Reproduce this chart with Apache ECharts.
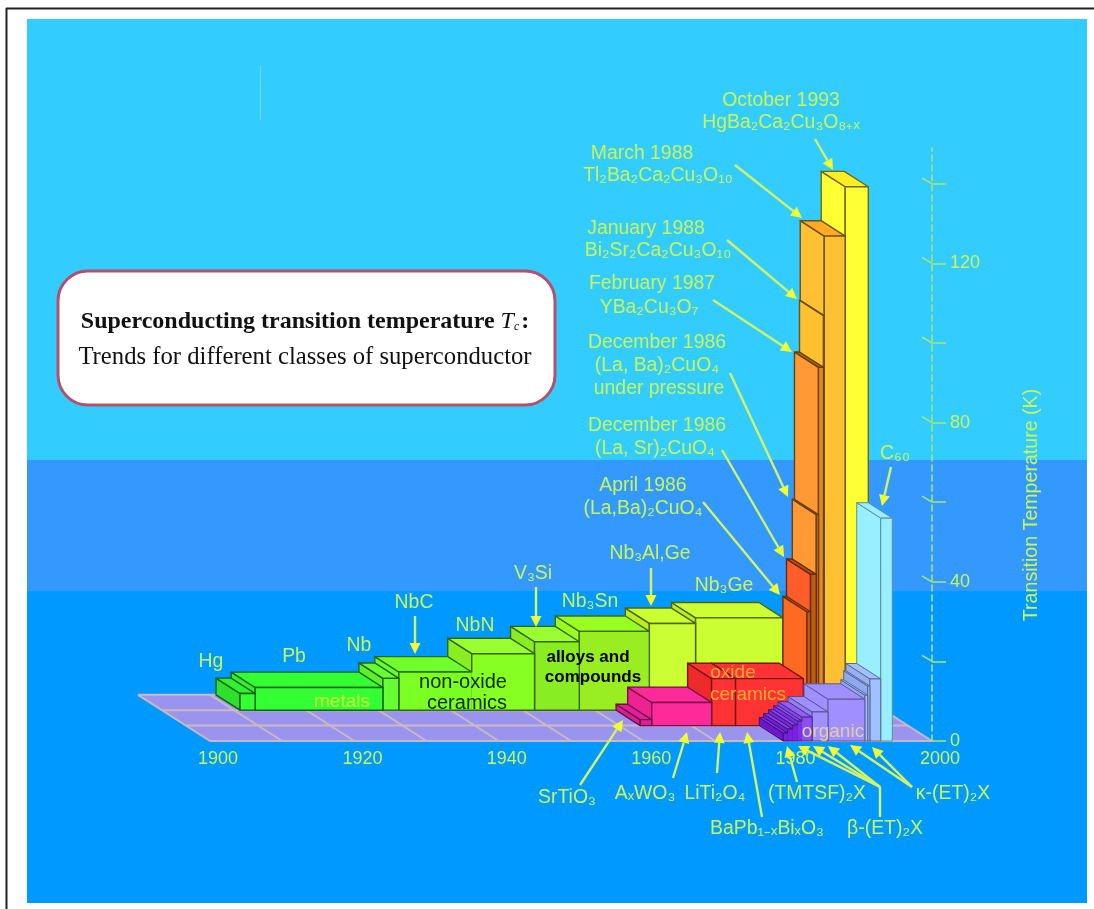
<!DOCTYPE html>
<html>
<head>
<meta charset="utf-8">
<title>Superconducting transition temperature</title>
<script src="https://cdn.jsdelivr.net/npm/echarts@6/dist/echarts.min.js"></script>
<style>html,body{margin:0;padding:0;background:#fff}#chart{width:1094px;height:909px}</style>
</head>
<body>
<div id="chart"></div>
<script>
// Rear row: metals, non-oxide ceramics, alloys and compounds
const rearNames = ['Hg', 'Pb', 'Nb', 'NbC', 'NbN', 'V3Si', 'Nb3Sn', 'Nb3Al,Ge', 'Nb3Ge'];
const rearStart = [1910.8, 1912.9, 1930.6, 1932.8, 1942.9, 1951.6, 1957.8, 1967.5, 1973.9];
const rearEnd   = [1912.9, 1930.6, 1932.8, 1942.9, 1951.6, 1957.8, 1967.5, 1973.9, 1986.0];
const rearTc    = [4.2, 5.7, 8.0, 9.6, 14.2, 17.2, 19.8, 21.8, 23.2];

// Middle row: oxides and the cuprate column
const oxideNames = ['SrTiO3', 'AxWO3', 'LiTi2O4', 'BaPb1-xBixO3'];
const oxideStart = [1962.9, 1964.5, 1972.8, 1976.1];
const oxideEnd   = [1964.5, 1972.8, 1976.1, 1985.5];
const oxideTc    = [1.5, 5.8, 11.8, 11.8];

const cuprateNames = ['(La,Ba)2CuO4', '(La,Sr)2CuO4', '(La,Ba)2CuO4 P', 'YBa2Cu3O7', 'Bi2Sr2Ca2Cu3O10', 'Tl2Ba2Ca2Cu3O10', 'HgBa2Ca2Cu3O8'];
const cuprateStart = [1986.0, 1986.5, 1987.3, 1987.6, 1988.3, 1988.4, 1991.3];
const cuprateEnd   = [1986.5, 1987.3, 1987.6, 1988.3, 1988.4, 1991.3, 1994.5];
const cuprateTc    = [28.6, 38.0, 53.0, 90.0, 103.0, 123.0, 135.4];

// Front row: organic salts and C60
const organicNames = ['TMTSF a', 'TMTSF b', 'TMTSF c', 'TMTSF d', 'beta a', 'beta b', 'kappa a', 'kappa b', 'kappa c', 'kappa d', 'C60'];
const organicStart = [1979.4, 1980.0, 1980.7, 1981.4, 1982.0, 1983.4, 1985.6, 1990.7, 1991.1, 1991.4, 1992.9];
const organicEnd   = [1980.0, 1980.7, 1981.4, 1982.0, 1983.4, 1985.6, 1990.7, 1991.1, 1991.4, 1992.9, 1994.5];
const organicTc    = [2.0, 3.0, 4.0, 5.0, 6.0, 7.3, 10.5, 11.5, 13.8, 15.6, 56.0];

const xTicks = [1900, 1920, 1940, 1960, 1980, 2000];
const floorYears = [1900, 1910, 1920, 1930, 1940, 1950, 1960, 1970, 1980, 1990, 2000];
const floorDepths = [1, 2, 3];
const yTickValues = [0, 20, 40, 60, 80, 100, 120, 140];
const yLabelValues = [0, 40, 80, 120];

// Face colours per block: front, side, top
const rearFaces = [
  ['#33ff33', '#2ee02e', '#33f033'], ['#33ff33', '#33ee33', '#33ff33'],
  ['#66ff33', '#5eee2e', '#66ff33'], ['#7cff22', '#66ff33', '#70ff2a'],
  ['#88ff22', '#88ee22', '#99ff33'], ['#88ee22', '#88ee22', '#99ff33'],
  ['#99ee22', '#99ff22', '#99ff22'], ['#ccff33', '#bbee22', '#ccff33'],
  ['#ccff33', '#bbee22', '#ccff33']
];
const oxideFaces = [
  ['#e0209a', '#d81f90', '#e0209a'], ['#ff2a9a', '#ee2290', '#ff2a9a'],
  ['#ff3333', '#ee2a2a', '#ff3333'], ['#ff3333', '#ee2a2a', '#ff3333']
];
const cuprateFaces = [
  ['#c85a10', '#ff6a22', '#d05a14'], ['#b86010', '#ff5e2a', '#b05010'],
  ['#d07018', '#ff9933', '#a05a10'], ['#e08a20', '#ff9933', '#a06410'],
  ['#ffc030', '#ffc030', '#a87a14'], ['#ffc033', '#ffc033', '#ffaa22'],
  ['#ffff33', '#ffff33', '#ffee22']
];
const organicFaces = [
  ['#7a20e0', '#6a18c8', '#8030e0'], ['#7a20e0', '#7020d0', '#8840e8'],
  ['#7a20e0', '#7428d8', '#8840e8'], ['#7a30e8', '#7a30e0', '#8850f0'],
  ['#8a50f0', '#8048e8', '#9060f0'], ['#a090ff', '#9080f0', '#a090ff'],
  ['#a090ff', '#a090ff', '#a090ff'], ['#a0c0ff', '#90a8f0', '#a0c0ff'],
  ['#a0c0ff', '#90a8f0', '#a0c0ff'], ['#a0c0ff', '#98b0f0', '#a0c0ff'],
  ['#99eeff', '#99eeff', '#99eeff']
];

// Oblique projection: one depth unit moves a point back and to the left
const DEPTH_DX = -24;
const DEPTH_DY = -15.4;

function darken(hex, k) {
  const n = parseInt(hex.slice(1), 16);
  const c = [n >> 16, (n >> 8) & 255, n & 255].map(v => Math.round(v * k));
  return 'rgb(' + c.join(',') + ')';
}

// Within a row the steps rise to the right, so they are painted right to left.
// A joined block shares its front face with the block on its left.
const blocks = [];
function addRow(starts, ends, tcs, depth, faces, joined, edgeShade, edgeWidth) {
  for (let i = starts.length - 1; i >= 0; i--) {
    blocks.push({
      start: starts[i], end: ends[i], tc: tcs[i], depth,
      faces: faces[i], edgeShade, edgeWidth,
      joinedBelow: joined.includes(i) ? tcs[i - 1] : null,
      openRight: joined.includes(i + 1)
    });
  }
}
addRow(rearStart, rearEnd, rearTc, 2, rearFaces, [4], 0.42, 1.4);
addRow(cuprateStart, cuprateEnd, cuprateTc, 1, cuprateFaces, [], 0.42, 1.4);
addRow(oxideStart, oxideEnd, oxideTc, 1, oxideFaces, [], 0.5, 1.4);
addRow(organicStart, organicEnd, organicTc, 0, organicFaces, [1, 2, 3, 4], 0.6, 1);

function project(api, year, tc, depth) {
  const c = api.coord([year, tc]);
  return [c[0] + depth * DEPTH_DX, c[1] + depth * DEPTH_DY];
}

function renderBlock(params, api) {
  const b = blocks[params.dataIndex];
  const s = api.value(0), e = api.value(1), t = api.value(2), d = api.value(3);
  const d1 = d + 1;
  const edge = darken(b.faces[1], b.edgeShade);
  const lw = b.edgeWidth;
  const poly = (pts, fill) => ({
    type: 'polygon', shape: { points: pts },
    style: { fill, stroke: edge, lineWidth: lw, lineJoin: 'round' }
  });
  const frontPts = [project(api, s, 0, d), project(api, e, 0, d), project(api, e, t, d), project(api, s, t, d)];
  const outline = [project(api, s, b.joinedBelow === null ? 0 : b.joinedBelow, d), project(api, s, t, d), project(api, e, t, d)];
  if (!b.openRight) outline.push(project(api, e, 0, d));
  return {
    type: 'group',
    children: [
      poly([project(api, s, 0, d1), project(api, s, 0, d), project(api, s, t, d), project(api, s, t, d1)], b.faces[1]),
      poly([project(api, s, t, d1), project(api, e, t, d1), project(api, e, t, d), project(api, s, t, d)], b.faces[2]),
      { type: 'polygon', shape: { points: frontPts }, style: { fill: b.faces[0] } },
      { type: 'polyline', shape: { points: outline }, style: { fill: 'none', stroke: edge, lineWidth: lw } },
      { type: 'line', shape: { x1: frontPts[0][0], y1: frontPts[0][1], x2: frontPts[1][0], y2: frontPts[1][1] }, style: { stroke: edge, lineWidth: lw } }
    ]
  };
}

function renderFloor(params, api) {
  const lo = xTicks[0], hi = xTicks[xTicks.length - 1];
  const maxD = floorDepths[floorDepths.length - 1];
  const lineStyle = { stroke: '#c9b9c4', lineWidth: 2 };
  const seg = (a, b) => ({ type: 'line', shape: { x1: a[0], y1: a[1], x2: b[0], y2: b[1] }, style: lineStyle });
  const children = [{
    type: 'polygon',
    shape: { points: [project(api, lo, 0, 0), project(api, hi, 0, 0), project(api, hi, 0, maxD), project(api, lo, 0, maxD)] },
    style: { fill: '#9a94ee' }
  }];
  floorYears.forEach(y => children.push(seg(project(api, y, 0, 0), project(api, y, 0, maxD))));
  floorDepths.forEach(d => children.push(seg(project(api, lo, 0, d), project(api, hi, 0, d))));
  return { type: 'group', children };
}

// Small slanted strokes that meet the vertical axis
function renderAxisMark(params, api) {
  const p = api.coord([xTicks[xTicks.length - 1], api.value(0)]);
  return {
    type: 'line',
    shape: { x1: p[0] - 10, y1: p[1] - 6, x2: p[0], y2: p[1] },
    style: { stroke: '#a8e870', lineWidth: 1.5 }
  };
}

// Layout of the annotations
const TEXT_GREEN = '#c8f55a';
const SANS = '"Liberation Sans", Arial, sans-serif';
const calloutText = [
  ['October 1993', 781, 101], ['HgBa₂Ca₂Cu₃O₈₊ₓ', 781, 123],
  ['March 1988', 642, 154], ['Tl₂Ba₂Ca₂Cu₃O₁₀', 658, 176],
  ['January 1988', 646, 229], ['Bi₂Sr₂Ca₂Cu₃O₁₀', 658, 251],
  ['February 1987', 652, 284], ['YBa₂Cu₃O₇', 649, 308],
  ['December 1986', 657, 343], ['(La, Ba)₂CuO₄', 657, 366], ['under pressure', 659, 389],
  ['December 1986', 657, 426], ['(La, Sr)₂CuO₄', 655, 449],
  ['April 1986', 643, 486], ['(La,Ba)₂CuO₄', 643, 509],
  ['Nb₃Al,Ge', 650, 554], ['Nb₃Ge', 724, 586], ['Nb₃Sn', 590, 602], ['V₃Si', 533, 574],
  ['NbN', 475, 626], ['NbC', 414, 603], ['Nb', 359, 646], ['Pb', 294, 657], ['Hg', 211, 662],
  ['C₆₀', 895, 454],
  ['SrTiO₃', 567, 798], ['AₓWO₃', 645, 794], ['LiTi₂O₄', 715, 794], ['(TMTSF)₂X', 817, 794],
  ['κ-(ET)₂X', 953, 794], ['BaPb₁₋ₓBiₓO₃', 767, 829], ['β-(ET)₂X', 885, 829]
];
const calloutArrows = [
  [815, 139, 833, 170], [735, 165, 802, 218], [727, 240, 797, 299], [713, 300, 792, 352],
  [730, 373, 788, 497], [722, 450, 784, 557], [703, 502, 780, 595],
  [651, 568, 651, 606], [536, 587, 536, 627], [415, 616, 415, 654], [891, 467, 882, 506],
  [580, 785, 623, 720], [673, 778, 687, 732], [717, 773, 720, 732], [762, 817, 747, 732],
  [797, 782, 787, 746], [880, 787, 798, 746], [880, 787, 813, 746], [880, 787, 828, 746],
  [912, 787, 850, 745], [912, 787, 872, 747]
];
const elbowLines = [[880, 817, 880, 787]];
const classLabels = [
  ['metals', 342, 702, '#ccff33', 'normal 19px'],
  ['non-oxide', 463, 682, '#0a2a00', 'normal 20px'], ['ceramics', 467, 703, '#0a2a00', 'normal 20px'],
  ['alloys and', 588, 657, '#000000', 'bold 17px'], ['compounds', 593, 677, '#000000', 'bold 17px'],
  ['oxide', 733, 673, '#ffaa33', 'normal 19px'], ['ceramics', 748, 695, '#ffaa33', 'normal 19px'],
  ['organic', 833, 732, '#e0d0a0', 'normal 19px']
];

const elements = [
  { type: 'rect', z: -10, shape: { x: 27, y: 19, width: 1060, height: 441 }, style: { fill: '#33ccff' } },
  { type: 'rect', z: -10, shape: { x: 27, y: 460, width: 1060, height: 131 }, style: { fill: '#3399ff' } },
  { type: 'rect', z: -10, shape: { x: 27, y: 591, width: 1060, height: 312 }, style: { fill: '#0099ff' } },
  { type: 'line', z: -9, shape: { x1: 6.5, y1: 8, x2: 6.5, y2: 909 }, style: { stroke: '#222', lineWidth: 2 } },
  { type: 'line', z: -9, shape: { x1: 6, y1: 8.5, x2: 1094, y2: 8.5 }, style: { stroke: '#222', lineWidth: 2 } },
  { type: 'line', z: -9, shape: { x1: 260.5, y1: 66, x2: 260.5, y2: 120 }, style: { stroke: '#70dcff', lineWidth: 1 } },
  {
    type: 'rect', z: 20, shape: { x: 58, y: 271, width: 497, height: 134, r: 30 },
    style: { fill: '#ffffff', stroke: '#b5506c', lineWidth: 3 }
  },
  {
    type: 'text', z: 21, x: 305, y: 322,
    style: {
      text: '{b|Superconducting transition temperature }{i|T}{s|c}{b|:}',
      align: 'center', verticalAlign: 'middle', fill: '#111',
      rich: {
        b: { font: 'bold 24px "Liberation Serif", serif', fill: '#111' },
        i: { font: 'italic 24px "Liberation Serif", serif', fill: '#111' },
        s: { font: 'italic 12px "Liberation Serif", serif', fill: '#111', padding: [9, 2, 0, 0] }
      }
    }
  },
  {
    type: 'text', z: 21, x: 305, y: 358,
    style: {
      text: 'Trends for different classes of superconductor', align: 'center', verticalAlign: 'middle',
      fill: '#111', font: '24.7px "Liberation Serif", serif'
    }
  },
  {
    type: 'text', z: 21, x: 1032, y: 505, rotation: Math.PI / 2,
    style: {
      text: 'Transition Temperature (K)', align: 'center', verticalAlign: 'middle',
      fill: TEXT_GREEN, font: '19.6px ' + SANS
    }
  }
];

elbowLines.forEach(a => elements.push({
  type: 'line', z: 15, shape: { x1: a[0], y1: a[1], x2: a[2], y2: a[3] },
  style: { stroke: '#d2f268', lineWidth: 2.4 }
}));
calloutArrows.forEach(a => {
  const len = Math.hypot(a[2] - a[0], a[3] - a[1]);
  const ux = (a[2] - a[0]) / len, uy = (a[3] - a[1]) / len;
  const bx = a[2] - ux * 11, by = a[3] - uy * 11;
  elements.push({
    type: 'line', z: 15, shape: { x1: a[0], y1: a[1], x2: bx, y2: by },
    style: { stroke: '#d2f268', lineWidth: 2.4 }
  });
  elements.push({
    type: 'polygon', z: 16,
    shape: { points: [[a[2], a[3]], [bx - uy * 5.5, by + ux * 5.5], [bx + uy * 5.5, by - ux * 5.5]] },
    style: { fill: '#eeff33' }
  });
});
calloutText.forEach(t => elements.push({
  type: 'text', z: 17, x: t[1], y: t[2],
  style: { text: t[0], align: 'center', verticalAlign: 'middle', fill: TEXT_GREEN, font: '19.4px ' + SANS }
}));
classLabels.forEach(t => elements.push({
  type: 'text', z: 17, x: t[1], y: t[2],
  style: { text: t[0], align: 'center', verticalAlign: 'middle', fill: t[3], font: t[4] + ' ' + SANS }
}));

const chart = echarts.init(document.getElementById('chart'), null, { renderer: 'canvas' });
chart.setOption({
  animation: false,
  backgroundColor: '#ffffff',
  grid: { left: 210, right: 162, top: 148, bottom: 168 },
  xAxis: {
    type: 'value', min: 1900, max: 2000, interval: 20, position: 'bottom', z: 3,
    splitLine: { show: false },
    axisTick: { show: false },
    axisLine: { lineStyle: { color: '#c9b9c4', width: 2 } },
    axisLabel: {
      color: TEXT_GREEN, fontSize: 18, fontFamily: 'Liberation Sans', margin: 9, padding: [0, 0, 0, 16],
      formatter: v => String(v)
    }
  },
  yAxis: {
    type: 'value', min: 0, max: 149, interval: 20, position: 'right', z: 1,
    splitLine: { show: false },
    axisLine: { lineStyle: { color: '#a8e870', width: 1.5, type: [6, 4] } },
    axisTick: { length: 14, customValues: yTickValues, lineStyle: { color: '#a8e870', width: 1.5 } },
    axisLabel: {
      color: TEXT_GREEN, fontSize: 18, fontFamily: 'Liberation Sans', margin: 18,
      customValues: yLabelValues, formatter: v => String(v)
    }
  },
  series: [
    { type: 'custom', name: 'floor', z: 1, silent: true, clip: false, data: [[1900, 0]], encode: { x: 0, y: 1 }, renderItem: renderFloor },
    { type: 'custom', name: 'axis marks', z: 2, silent: true, clip: false, data: yTickValues.filter(v => v > 0).map(v => [v]), encode: { y: 0 }, renderItem: renderAxisMark },
    {
      type: 'custom', name: 'Tc', z: 5, silent: true, clip: false,
      data: blocks.map(b => [b.start, b.end, b.tc, b.depth]),
      encode: { x: [0, 1], y: 2 },
      renderItem: renderBlock
    }
  ],
  graphic: { elements }
});
</script>
</body>
</html>
